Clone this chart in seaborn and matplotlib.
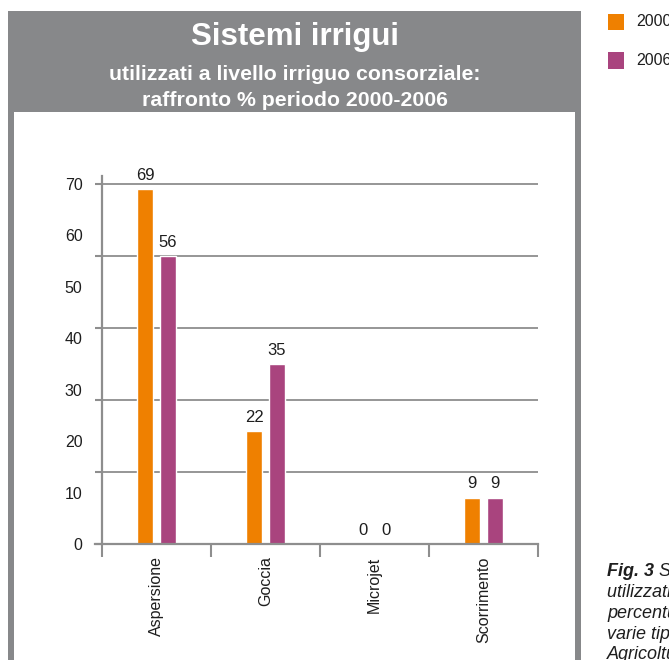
import matplotlib
matplotlib.use("Agg")
import matplotlib.pyplot as plt
from matplotlib.patches import Rectangle
import pandas as pd
import seaborn as sns

# --- data -------------------------------------------------------------
categories = ["Aspersione", "Goccia", "Microjet", "Scorrimento"]
values_2000 = [69, 22, 0, 9]
values_2006 = [56, 35, 0, 9]
years = ["2000", "2006"]
ytick_labels = [0, 10, 20, 30, 40, 50, 60, 70]
grid_levels = [0, 14, 28, 42, 56, 70]

title = "Sistemi irrigui"
subtitle_lines = ["utilizzati a livello irriguo consorziale:",
                  "raffronto % periodo 2000-2006"]
caption_bold = "Fig. 3"
caption_lines = [" Sistemi irrigui", "utilizzati a livello", "percentuale delle",
                 "varie tipologie", "Agricoltura"]

ORANGE = "#EF8000"
PURPLE = "#A9447E"
FRAME = "#87888A"
AXIS = "#8E8E8E"
TEXT = "#1E1E1E"

df = pd.DataFrame({
    "categoria": categories * 2,
    "valore": values_2000 + values_2006,
    "anno": [years[0]] * len(categories) + [years[1]] * len(categories),
})

sns.set_style("white")
plt.rcParams["font.family"] = ["Liberation Sans", "DejaVu Sans"]

W, H = 669, 660
fig = plt.figure(figsize=(W / 100, H / 100), dpi=100)
fig.patch.set_facecolor("white")


def fx(px):
    return px / W


def fy(py):
    return 1 - py / H


# grey frame with header band and white inner panel
fig.add_artist(Rectangle((fx(8), fy(700)), fx(581 - 8), (700 - 11) / H,
                         transform=fig.transFigure, facecolor=FRAME,
                         edgecolor="none", zorder=0))
fig.add_artist(Rectangle((fx(14), fy(700)), fx(575 - 14), (700 - 112) / H,
                         transform=fig.transFigure, facecolor="white",
                         edgecolor="none", zorder=0))

fig.text(fx(295), fy(44.7), title, color="white", fontsize=22.5,
         fontweight="bold", ha="center", va="baseline")
for i, line in enumerate(subtitle_lines):
    fig.text(fx(295), fy(79.7 + i * 26), line, color="white", fontsize=15.3,
             fontweight="bold", ha="center", va="baseline")

# plot area
ax = fig.add_axes([fx(95), 116 / H, fx(538 - 95), 368 / H])
ax.set_facecolor("none")
sns.barplot(data=df, x="categoria", y="valore", hue="anno",
            palette=[ORANGE, PURPLE], width=0.42, gap=0.3,
            saturation=1, legend=False, ax=ax, zorder=3)

for cont, vals in zip(ax.containers, [values_2000, values_2006]):
    ax.bar_label(cont, labels=[str(v) for v in vals], padding=4.5,
                 fontsize=12, color=TEXT)

ax.set_xlim(-0.564, 3.5)
ax.set_ylim(0, 71.56)
ax.set_xlabel("")
ax.set_ylabel("")

for s in ["top", "right"]:
    ax.spines[s].set_visible(False)
for s in ["left", "bottom"]:
    ax.spines[s].set_color(AXIS)
    ax.spines[s].set_linewidth(1.6)
    ax.spines[s].set_zorder(4)
ax.spines["left"].set_position(("data", -0.5))

# y: gridlines with short ticks, labels on a separate decade scale
ax.yaxis.remove_overlapping_locs = False
ax.set_yticks(grid_levels)
ax.set_yticklabels([""] * len(grid_levels))
ax.set_yticks(ytick_labels, minor=True)
ax.set_yticklabels([str(v) for v in ytick_labels], minor=True)
ax.tick_params(axis="y", which="major", direction="out", length=5,
               width=1.5, color=AXIS, left=True)
ax.tick_params(axis="y", which="minor", length=0, pad=14,
               labelsize=11.5, labelcolor=TEXT)
ax.yaxis.grid(True, which="major", color=AXIS, linewidth=1.3)
ax.set_axisbelow(True)

# x: separators between categories, names centred under each group
ax.xaxis.remove_overlapping_locs = False
ax.set_xticks([-0.5, 0.5, 1.5, 2.5, 3.5])
ax.set_xticklabels([""] * 5)
ax.set_xticks(range(len(categories)), minor=True)
ax.set_xticklabels(categories, minor=True, rotation=90)
ax.tick_params(axis="x", which="major", direction="out", length=9,
               width=1.5, color=AXIS, bottom=True)
ax.tick_params(axis="x", which="minor", length=0, pad=9,
               labelsize=11.5, labelcolor=TEXT)

# legend
for i, (yr, col) in enumerate(zip(years, [ORANGE, PURPLE])):
    top = 14 + i * 38.5
    fig.add_artist(Rectangle((fx(608), fy(top + 16)), fx(16), 16 / H,
                             transform=fig.transFigure, facecolor=col,
                             edgecolor="none"))
    fig.text(fx(636), fy(top + 8), yr, fontsize=11.5, color=TEXT,
             ha="left", va="center")

# figure caption at the lower right
t0 = fig.text(fx(607), fy(572), caption_bold, fontsize=13,
              fontstyle="italic", fontweight="bold", color=TEXT,
              ha="left", va="center")
ax.annotate(caption_lines[0], xy=(1, 0), xycoords=t0, va="bottom",
            ha="left", fontsize=13, fontstyle="italic", color=TEXT,
            annotation_clip=False)
for i, line in enumerate(caption_lines[1:], start=1):
    fig.text(fx(607), fy(572 + i * 20.7), line, fontsize=13,
             fontstyle="italic", color=TEXT, ha="left", va="center")

fig.savefig("out.png", dpi=100)
